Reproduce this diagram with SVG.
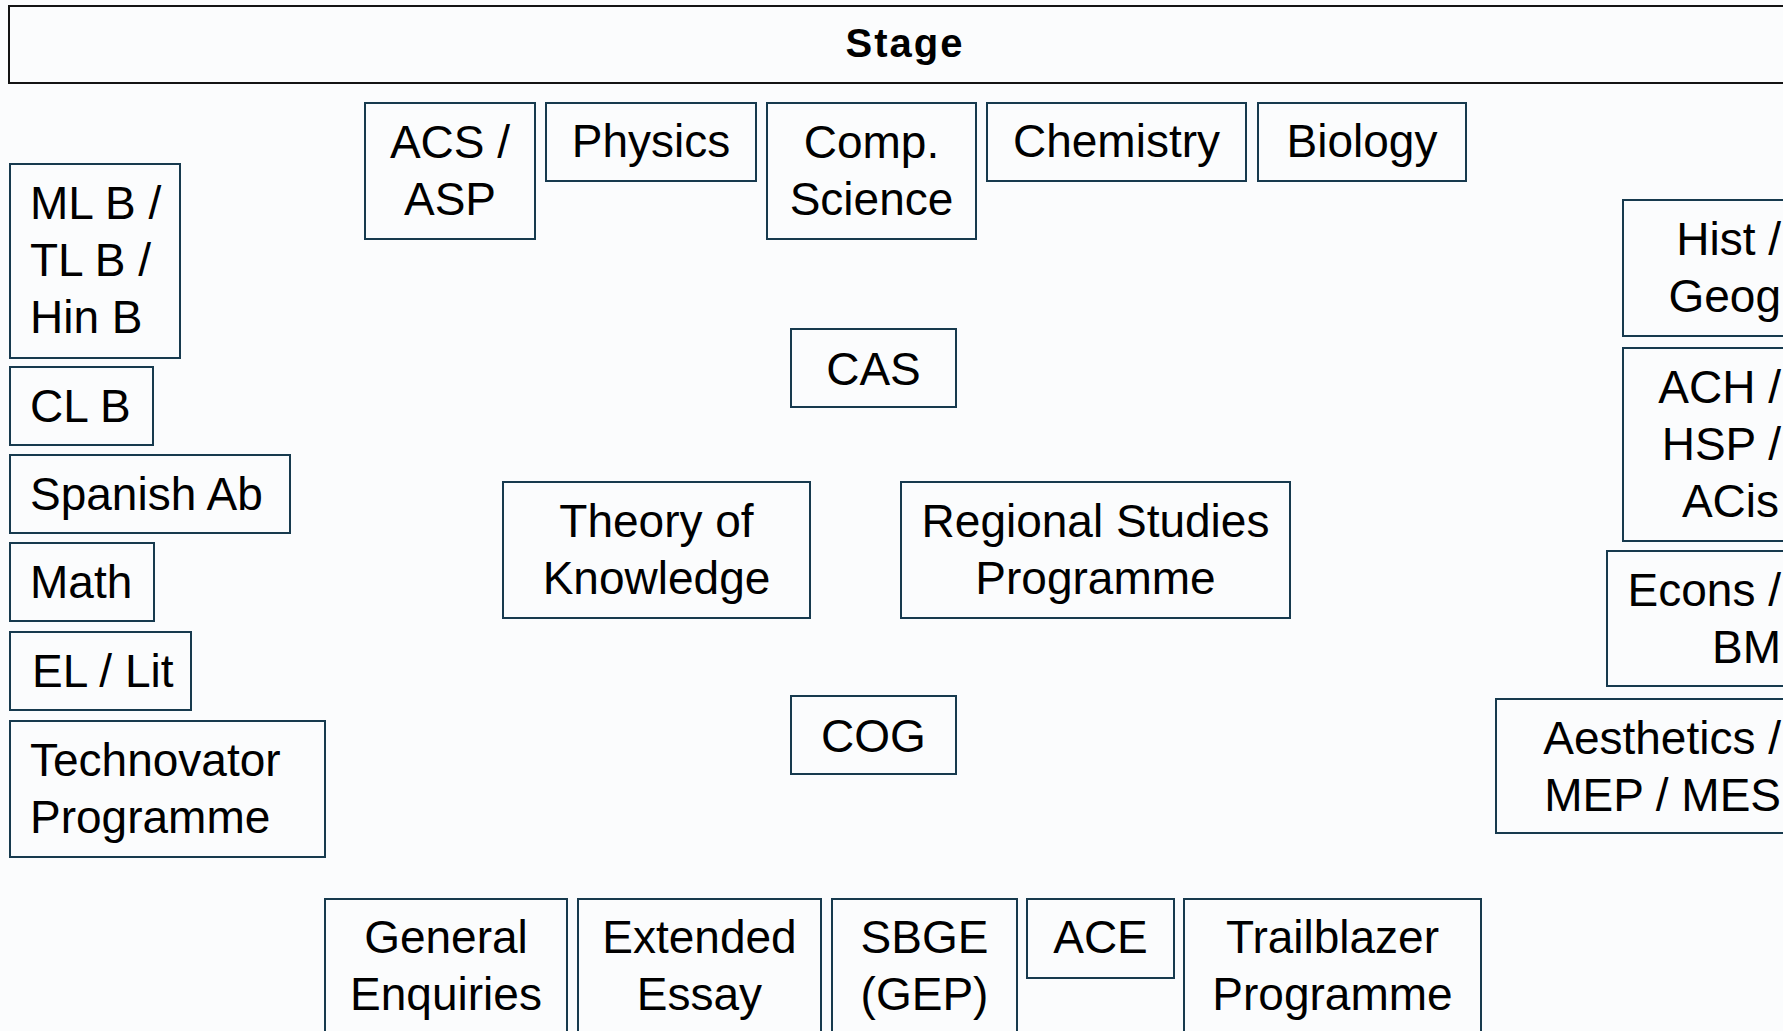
<svg xmlns="http://www.w3.org/2000/svg" width="1783" height="1031" viewBox="0 0 1783 1031">
<style>
.bg{fill:#fbfcfd}
.box{fill:none;stroke:#173a4e;stroke-width:2}
.stage{fill:none;stroke:#141414;stroke-width:2}
.t{font-family:"Liberation Sans",Arial,sans-serif;font-size:46px;fill:#000}
.c{text-anchor:middle}
.l{text-anchor:start}
.r{text-anchor:end}
.st{font-family:"Liberation Sans",Arial,sans-serif;font-weight:bold;font-size:40px;letter-spacing:2px;fill:#000;text-anchor:middle}
</style>
<rect class="bg" x="0" y="0" width="1783" height="1031"/>
<g id="connectors"/>
<g id="stage"><rect class="stage" x="9" y="6" width="1800" height="77"/><text class="st" x="905" y="57">Stage</text></g>
<g id="acs"><rect class="box" x="365" y="103" width="170" height="136"/><text class="t c" x="450" y="158">ACS /</text><text class="t c" x="450" y="215">ASP</text></g>
<g id="physics"><rect class="box" x="546" y="103" width="210" height="78"/><text class="t c" x="651" y="157">Physics</text></g>
<g id="compsci"><rect class="box" x="767" y="103" width="209" height="136"/><text class="t c" x="871.5" y="158">Comp.</text><text class="t c" x="871.5" y="215">Science</text></g>
<g id="chemistry"><rect class="box" x="987" y="103" width="259" height="78"/><text class="t c" x="1116.5" y="157">Chemistry</text></g>
<g id="biology"><rect class="box" x="1258" y="103" width="208" height="78"/><text class="t c" x="1362" y="157">Biology</text></g>
<g id="mlb"><rect class="box" x="10" y="164" width="170" height="194"/><text class="t l" x="30" y="219">ML B /</text><text class="t l" x="30" y="276">TL B /</text><text class="t l" x="30" y="333">Hin B</text></g>
<g id="clb"><rect class="box" x="10" y="367" width="143" height="78"/><text class="t l" x="30" y="422">CL B</text></g>
<g id="spanish"><rect class="box" x="10" y="455" width="280" height="78"/><text class="t l" x="30" y="510">Spanish Ab</text></g>
<g id="math"><rect class="box" x="10" y="543" width="144" height="78"/><text class="t l" x="30" y="598">Math</text></g>
<g id="ellit"><rect class="box" x="10" y="632" width="181" height="78"/><text class="t l" x="32" y="687">EL / Lit</text></g>
<g id="technovator"><rect class="box" x="10" y="721" width="315" height="136"/><text class="t l" x="30" y="776">Technovator</text><text class="t l" x="30" y="833">Programme</text></g>
<g id="cas"><rect class="box" x="791" y="329" width="165" height="78"/><text class="t c" x="873.5" y="385">CAS</text></g>
<g id="tok"><rect class="box" x="503" y="482" width="307" height="136"/><text class="t c" x="656.5" y="537">Theory of</text><text class="t c" x="656.5" y="594">Knowledge</text></g>
<g id="rsp"><rect class="box" x="901" y="482" width="389" height="136"/><text class="t c" x="1095.5" y="537">Regional Studies</text><text class="t c" x="1095.5" y="594">Programme</text></g>
<g id="cog"><rect class="box" x="791" y="696" width="165" height="78"/><text class="t c" x="873.5" y="752">COG</text></g>
<g id="general"><rect class="box" x="325" y="899" width="242" height="140"/><text class="t c" x="446" y="953">General</text><text class="t c" x="446" y="1010">Enquiries</text></g>
<g id="extended"><rect class="box" x="578" y="899" width="243" height="140"/><text class="t c" x="699.5" y="953">Extended</text><text class="t c" x="699.5" y="1010">Essay</text></g>
<g id="sbge"><rect class="box" x="832" y="899" width="185" height="140"/><text class="t c" x="924.5" y="953">SBGE</text><text class="t c" x="924.5" y="1010">(GEP)</text></g>
<g id="ace"><rect class="box" x="1027" y="899" width="147" height="79"/><text class="t c" x="1100.5" y="953">ACE</text></g>
<g id="trailblazer"><rect class="box" x="1184" y="899" width="297" height="140"/><text class="t c" x="1332.5" y="953">Trailblazer</text><text class="t c" x="1332.5" y="1010">Programme</text></g>
<g id="histgeog"><rect class="box" x="1623" y="200" width="200" height="136"/><text class="t r" x="1781" y="255">Hist /</text><text class="t r" x="1781" y="312">Geog</text></g>
<g id="ach"><rect class="box" x="1623" y="348" width="200" height="193"/><text class="t r" x="1781" y="403">ACH /</text><text class="t r" x="1781" y="460">HSP /</text><text class="t r" x="1779" y="517">ACis</text></g>
<g id="econs"><rect class="box" x="1607" y="551" width="220" height="135"/><text class="t r" x="1781" y="606">Econs /</text><text class="t r" x="1781" y="663">BM</text></g>
<g id="aesthetics"><rect class="box" x="1496" y="699" width="320" height="134"/><text class="t r" x="1781" y="754">Aesthetics /</text><text class="t r" x="1781" y="811">MEP / MES</text></g>
</svg>
